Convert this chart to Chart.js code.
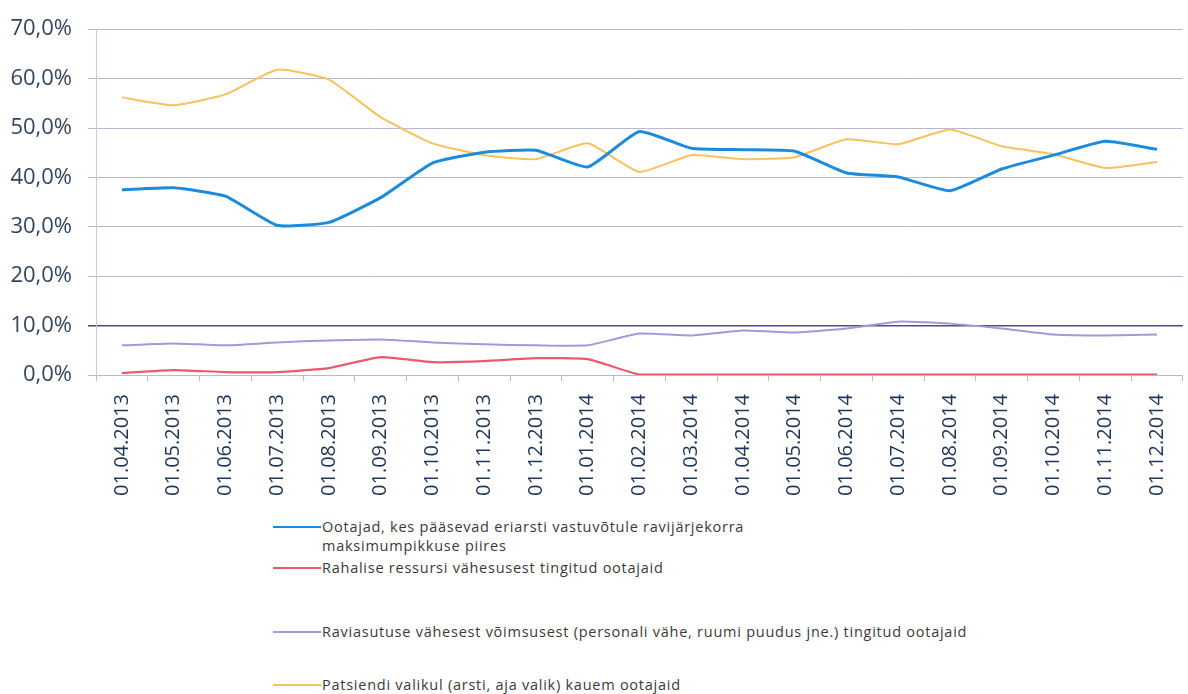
<!DOCTYPE html>
<html>
<head>
<meta charset="utf-8">
<script src="https://cdn.jsdelivr.net/npm/chart.js@4.4.1/dist/chart.umd.min.js"></script>
<style>
  body { margin: 0; background: #fff; overflow: hidden; width: 1188px; height: 694px; }
  #wrap { position: absolute; left: 0; top: 0; width: 1194px; height: 515px; }
  .leg { position: absolute; left: 273px; font-family: "Open Sans", sans-serif; font-size: 14.5px; letter-spacing: 0.75px; color: #3a3a3a; line-height: 19px; }
  .leg span.sw { position: absolute; left: 0; top: 9px; width: 48px; height: 2px; }
  .leg div.tx { margin-left: 49px; }
</style>
</head>
<body>
<div id="wrap"><canvas id="myLineChart"></canvas></div>
<div id="legend"></div>
<script>
var labels = ['01.04.2013', '01.05.2013', '01.06.2013', '01.07.2013', '01.08.2013', '01.09.2013', '01.10.2013',
  '01.11.2013', '01.12.2013', '01.01.2014', '01.02.2014', '01.03.2014', '01.04.2014', '01.05.2014',
  '01.06.2014', '01.07.2014', '01.08.2014', '01.09.2014', '01.10.2014', '01.11.2014', '01.12.2014'];

var seriesNames = [
  ['Ootajad, kes pääsevad eriarsti vastuvõtule ravijärjekorra', 'maksimumpikkuse piires'],
  ['Rahalise ressursi vähesusest tingitud ootajaid'],
  ['Raviasutuse vähesest võimsusest (personali vähe, ruumi puudus jne.) tingitud ootajaid'],
  ['Patsiendi valikul (arsti, aja valik) kauem ootajaid']
];

var blueValues = [37.5, 37.9, 36.2, 30.3, 30.9, 35.9, 42.9, 45.1, 45.5, 42.1, 49.3, 45.9, 45.6, 45.3, 40.9, 40.1, 37.3, 41.7, 44.5, 47.3, 45.7];
var redValues = [0.4, 1.0, 0.6, 0.6, 1.4, 3.6, 2.6, 2.8, 3.4, 3.2, 0.1, 0.1, 0.1, 0.1, 0.1, 0.1, 0.1, 0.1, 0.1, 0.1, 0.1];
var purpleValues = [6.0, 6.4, 6.0, 6.6, 7.0, 7.2, 6.6, 6.2, 6.0, 6.0, 8.4, 8.0, 9.0, 8.6, 9.4, 10.8, 10.4, 9.4, 8.2, 8.0, 8.2];
var orangeValues = [56.2, 54.6, 56.8, 61.8, 59.8, 52.2, 46.9, 44.5, 43.7, 46.9, 41.1, 44.5, 43.7, 44.1, 47.7, 46.7, 49.7, 46.3, 44.7, 41.9, 43.1];

var yTicks = [0, 10, 20, 30, 40, 50, 60, 70];

var colors = ['#1b8cdc', '#ea5a6e', '#9c9cdc', '#f6c25c'];
var widths = [3, 2.2, 2, 2];

var ctx = document.getElementById('myLineChart').getContext('2d');

var data = {
    labels: labels,
    datasets: [blueValues, redValues, purpleValues, orangeValues].map(function (vals, i) {
        return {
            label: seriesNames[i].join(' '),
            data: vals,
            borderColor: colors[i],
            borderWidth: widths[i],
            pointRadius: 0,
            tension: 0.15,
            fill: false
        };
    })
};

var myLineChart = new Chart(ctx, {
    type: 'line',
    data: data,
    options: {
        responsive: true,
        maintainAspectRatio: false,
        animation: false,
        layout: { padding: { top: 24, right: 0, left: 0, bottom: 0 } },
        scales: {
            x: {
                offset: true,
                grid: {
                    offset: true,
                    drawOnChartArea: false,
                    drawTicks: true,
                    tickLength: 6,
                    color: '#b8b8d6'
                },
                border: { color: '#b8b8d6' },
                ticks: {
                    minRotation: 90,
                    maxRotation: 90,
                    autoSkip: false,
                    padding: 13,
                    color: '#1f3658',
                    font: { family: 'Open Sans', size: 20 }
                },
                afterFit: function (s) { s.height = 140; }
            },
            y: {
                min: 0,
                max: 70,
                afterBuildTicks: function (s) {
                    s.ticks = yTicks.map(function (v) { return { value: v }; });
                },
                grid: {
                    tickLength: 8,
                    color: function (c) { return c.tick && c.tick.value === 10 ? '#4e4e7e' : '#b8b8d6'; },
                    lineWidth: function (c) { return c.tick && c.tick.value === 10 ? 1.6 : 1; }
                },
                border: { color: '#c8c8e0' },
                ticks: {
                    padding: 16,
                    color: '#34455e',
                    font: { family: 'Open Sans', size: 22 },
                    callback: function (v) { return v.toFixed(1).replace('.', ',') + '%'; }
                },
                afterFit: function (s) { s.width = 96; }
            }
        },
        plugins: {
            legend: { display: false },
            title: { display: false },
            tooltip: { enabled: false }
        }
    }
});

// legend below the chart, as text
var legendTops = [517, 558, 622, 675];
var legend = document.getElementById('legend');
seriesNames.forEach(function (lines, i) {
    var d = document.createElement('div');
    d.className = 'leg';
    d.style.top = legendTops[i] + 'px';
    var sw = document.createElement('span');
    sw.className = 'sw';
    sw.style.background = colors[i];
    d.appendChild(sw);
    var tx = document.createElement('div');
    tx.className = 'tx';
    tx.innerHTML = lines.join('<br>');
    d.appendChild(tx);
    legend.appendChild(d);
});
</script>
</body>
</html>
